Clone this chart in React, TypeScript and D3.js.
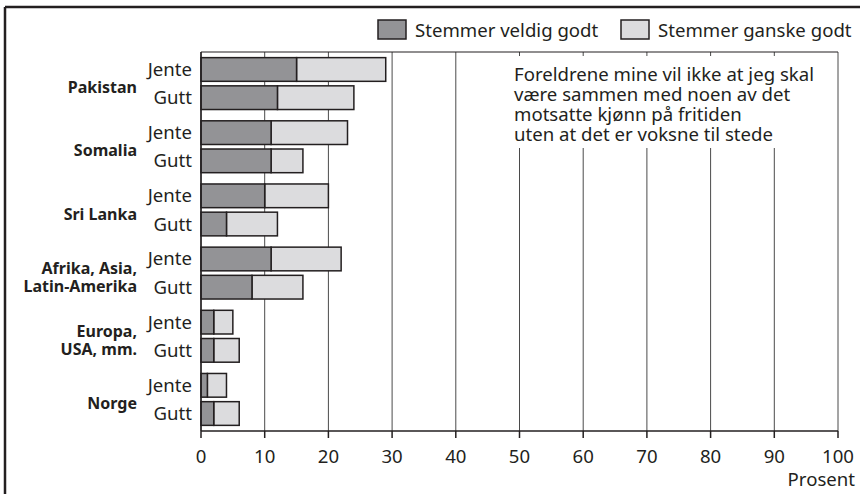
import * as d3 from "d3"

const groups = ["Pakistan", "Somalia", "Sri Lanka", "Afrika, Asia,\nLatin-Amerika", "Europa,\nUSA, mm.", "Norge"]
const genders = ["Jente", "Gutt"]
// [Jente, Gutt] per group
const veldigGodt = [[15, 12], [11, 11], [10, 4], [11, 8], [2, 2], [1, 2]]
const ganskeGodt = [[14, 12], [12, 5], [10, 8], [11, 8], [3, 4], [3, 4]]
const xTicks = [0, 10, 20, 30, 40, 50, 60, 70, 80, 90, 100]
const legendLabels = ["Stemmer veldig godt", "Stemmer ganske godt"]
const noteLines = [
  "Foreldrene mine vil ikke at jeg skal",
  "være sammen med noen av det",
  "motsatte kjønn på fritiden",
  "uten at det er voksne til stede",
]

const W = 860
const H = 494
const FONT = "'Noto Sans', sans-serif"
const DARK = "#939396"
const LIGHT = "#dcdcde"
const INK = "#231f20"
const FS = 18.6

export default function App() {
  const left = 201
  const right = 838
  const top = 52
  const bottom = 431

  const x = d3.scaleLinear().domain([0, 100]).range([left, right])
  const y = d3.scaleBand().domain(groups).range([top, bottom]).paddingInner(0).paddingOuter(0)
  const inner = d3.scaleBand().domain(genders).range([0, y.bandwidth()]).paddingInner(0.16).paddingOuter(0.2)

  return (
    <svg width={W} height={H} style={{ position: "absolute", left: 0, top: 0, background: "#fff" }}>
      <rect x={0} y={0} width={W} height={H} fill="#fff" />
      {/* frame (left and top visible) */}
      <line x1={5} x2={W} y1={7} y2={7} stroke={INK} strokeWidth={2.5} />
      <line x1={5} x2={5} y1={7} y2={H} stroke={INK} strokeWidth={2.5} />

      {/* legend */}
      {legendLabels.map((lab, i) => {
        const lx = i === 0 ? 378 : 621
        return (
          <g key={lab}>
            <rect x={lx} y={20} width={28} height={19} fill={i === 0 ? DARK : LIGHT} stroke={INK} strokeWidth={1.5} />
            <text x={lx + 37} y={30} dy="0.35em" fontFamily={FONT} fontSize={FS} fill={INK}>
              {lab}
            </text>
          </g>
        )
      })}

      {/* grid */}
      {xTicks.map((t) => (
        <line key={t} x1={x(t)} x2={x(t)} y1={top} y2={bottom} stroke="#4a4a4a" strokeWidth={1} />
      ))}
      <line x1={left} x2={right} y1={top} y2={top} stroke={INK} strokeWidth={1.2} />

      {/* note box */}
      <rect x={506} y={56} width={330} height={92} fill="#fff" />
      {noteLines.map((l, i) => (
        <text key={i} x={514} y={74 + i * 20} dy="0.35em" fontFamily={FONT} fontSize={FS} fill={INK}>
          {l}
        </text>
      ))}

      {/* bars */}
      {groups.map((g, gi) => (
        <g key={g} transform={`translate(0,${y(g)})`}>
          {genders.map((s, si) => {
            const v1 = veldigGodt[gi][si]
            const v2 = ganskeGodt[gi][si]
            const by = inner(s)!
            const bh = inner.bandwidth()
            return (
              <g key={s}>
                <rect x={x(v1)} y={by} width={x(v1 + v2) - x(v1)} height={bh} fill={LIGHT} stroke={INK} strokeWidth={1.5} />
                <rect x={x(0)} y={by} width={x(v1) - x(0)} height={bh} fill={DARK} stroke={INK} strokeWidth={1.5} />
                <text x={192} y={by + bh / 2} dy="0.35em" textAnchor="end" fontFamily={FONT} fontSize={FS} fill={INK}>
                  {s}
                </text>
              </g>
            )
          })}
          {(() => {
            const lines = g.split("\n")
            const cy = y.bandwidth() / 2 + 4
            return lines.map((ln, li) => (
              <text
                key={li}
                x={137}
                y={cy + (li - (lines.length - 1) / 2) * 18}
                dy="0.35em"
                textAnchor="end"
                fontFamily={FONT}
                fontWeight={700}
                fontSize={16}
                fill={INK}
              >
                {ln}
              </text>
            ))
          })()}
        </g>
      ))}

      {/* axes */}
      <line x1={left} x2={left} y1={top} y2={bottom} stroke={INK} strokeWidth={1.5} />
      <line x1={left} x2={right} y1={bottom} y2={bottom} stroke={INK} strokeWidth={1.5} />
      {xTicks.map((t) => (
        <g key={t}>
          <line x1={x(t)} x2={x(t)} y1={bottom} y2={bottom + 7} stroke={INK} strokeWidth={1.5} />
          <text x={x(t)} y={456.5} dy="0.35em" textAnchor="middle" fontFamily={FONT} fontSize={FS} fill={INK}>
            {t}
          </text>
        </g>
      ))}
      <text x={855} y={479.5} dy="0.35em" textAnchor="end" fontFamily={FONT} fontSize={FS} fill={INK}>
        Prosent
      </text>
    </svg>
  )
}
